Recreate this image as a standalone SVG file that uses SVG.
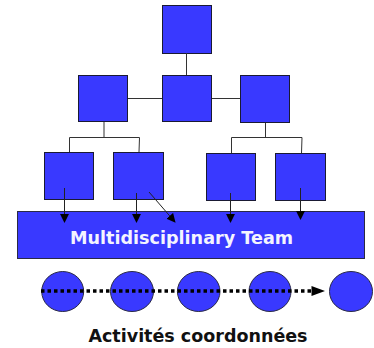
<svg xmlns="http://www.w3.org/2000/svg" width="374" height="348" viewBox="0 0 374 348">
<style>
.box{fill:#3939ff;stroke:#1a1a33;stroke-width:1}
.ln{stroke:#333;stroke-width:1;fill:none}
.ar{stroke:#222;stroke-width:1;fill:none;marker-end:url(#ah)}
.team{fill:#3939ff;stroke:#2a2a44;stroke-width:1}
.circ{fill:#3939ff;stroke:#2a2a44;stroke-width:1}
.lbl{font-family:"DejaVu Sans",Verdana,sans-serif;font-weight:bold}
</style>
<defs>
<marker id="ah" viewBox="0 0 10 10" refX="9" refY="5" markerWidth="9" markerHeight="9" markerUnits="userSpaceOnUse" orient="auto">
<path d="M0,0 L10,5 L0,10 Z" fill="#000"/>
</marker>
</defs>
<g id="n-top"><rect class="box" x="162.5" y="5.5" width="49" height="48"/></g>
<g id="n-left"><rect class="box" x="78.5" y="75.5" width="49" height="46"/></g>
<g id="n-center"><rect class="box" x="162.5" y="75.5" width="49" height="46"/></g>
<g id="n-right"><rect class="box" x="240.5" y="75.5" width="49" height="47"/></g>
<g id="n-b1"><rect class="box" x="44.5" y="152.5" width="49" height="47"/></g>
<g id="n-b2"><rect class="box" x="113.5" y="152.5" width="50" height="47"/></g>
<g id="n-b3"><rect class="box" x="206.5" y="153.5" width="49" height="47"/></g>
<g id="n-b4"><rect class="box" x="275.5" y="153.5" width="50" height="47"/></g>
<g id="n-team">
<rect class="team" x="17.5" y="211.5" width="347" height="47"/>
<text class="lbl" x="181.5" y="243.5" font-size="17.6" fill="#f4f4ff" text-anchor="middle">Multidisciplinary Team</text>
</g>
<g id="n-c1"><ellipse class="circ" cx="62.7" cy="291.5" rx="21" ry="20"/></g>
<g id="n-c2"><ellipse class="circ" cx="132" cy="291.5" rx="21.5" ry="20"/></g>
<g id="n-c3"><ellipse class="circ" cx="198.7" cy="291.5" rx="21.3" ry="20"/></g>
<g id="n-c4"><ellipse class="circ" cx="270" cy="291.5" rx="21" ry="20"/></g>
<g id="n-c5"><ellipse class="circ" cx="351" cy="291.5" rx="21.5" ry="20"/></g>
<g id="connectors">
<line class="ln" x1="186.5" y1="53" x2="186.5" y2="75"/>
<line class="ln" x1="128" y1="98.5" x2="162" y2="98.5"/>
<line class="ln" x1="212" y1="98.5" x2="240" y2="98.5"/>
<polyline class="ln" points="104,122 104,137.5"/>
<polyline class="ln" points="69.5,152 69.5,137.5 139.5,137.5 139,152"/>
<polyline class="ln" points="265.5,123 265.5,137.5"/>
<polyline class="ln" points="231.5,153 231.5,137.5 302,137.5 301.5,153"/>
<line class="ar" x1="64.5" y1="188" x2="64.5" y2="222"/>
<line class="ar" x1="136.5" y1="193" x2="136.5" y2="222"/>
<line class="ar" x1="149" y1="192" x2="175" y2="222"/>
<line class="ar" x1="230.5" y1="193" x2="230.5" y2="222"/>
<line class="ar" x1="300.5" y1="188" x2="300.5" y2="219"/>
<line x1="41" y1="291" x2="313" y2="291" stroke="#000" stroke-width="3.5" stroke-dasharray="3.5 3"/>
<path d="M311.5,286 L325,291 L311.5,296 Z" fill="#000"/>
</g>
<text class="lbl" x="198" y="341.5" font-size="17.5" fill="#111" text-anchor="middle">Activités coordonnées</text>
</svg>
